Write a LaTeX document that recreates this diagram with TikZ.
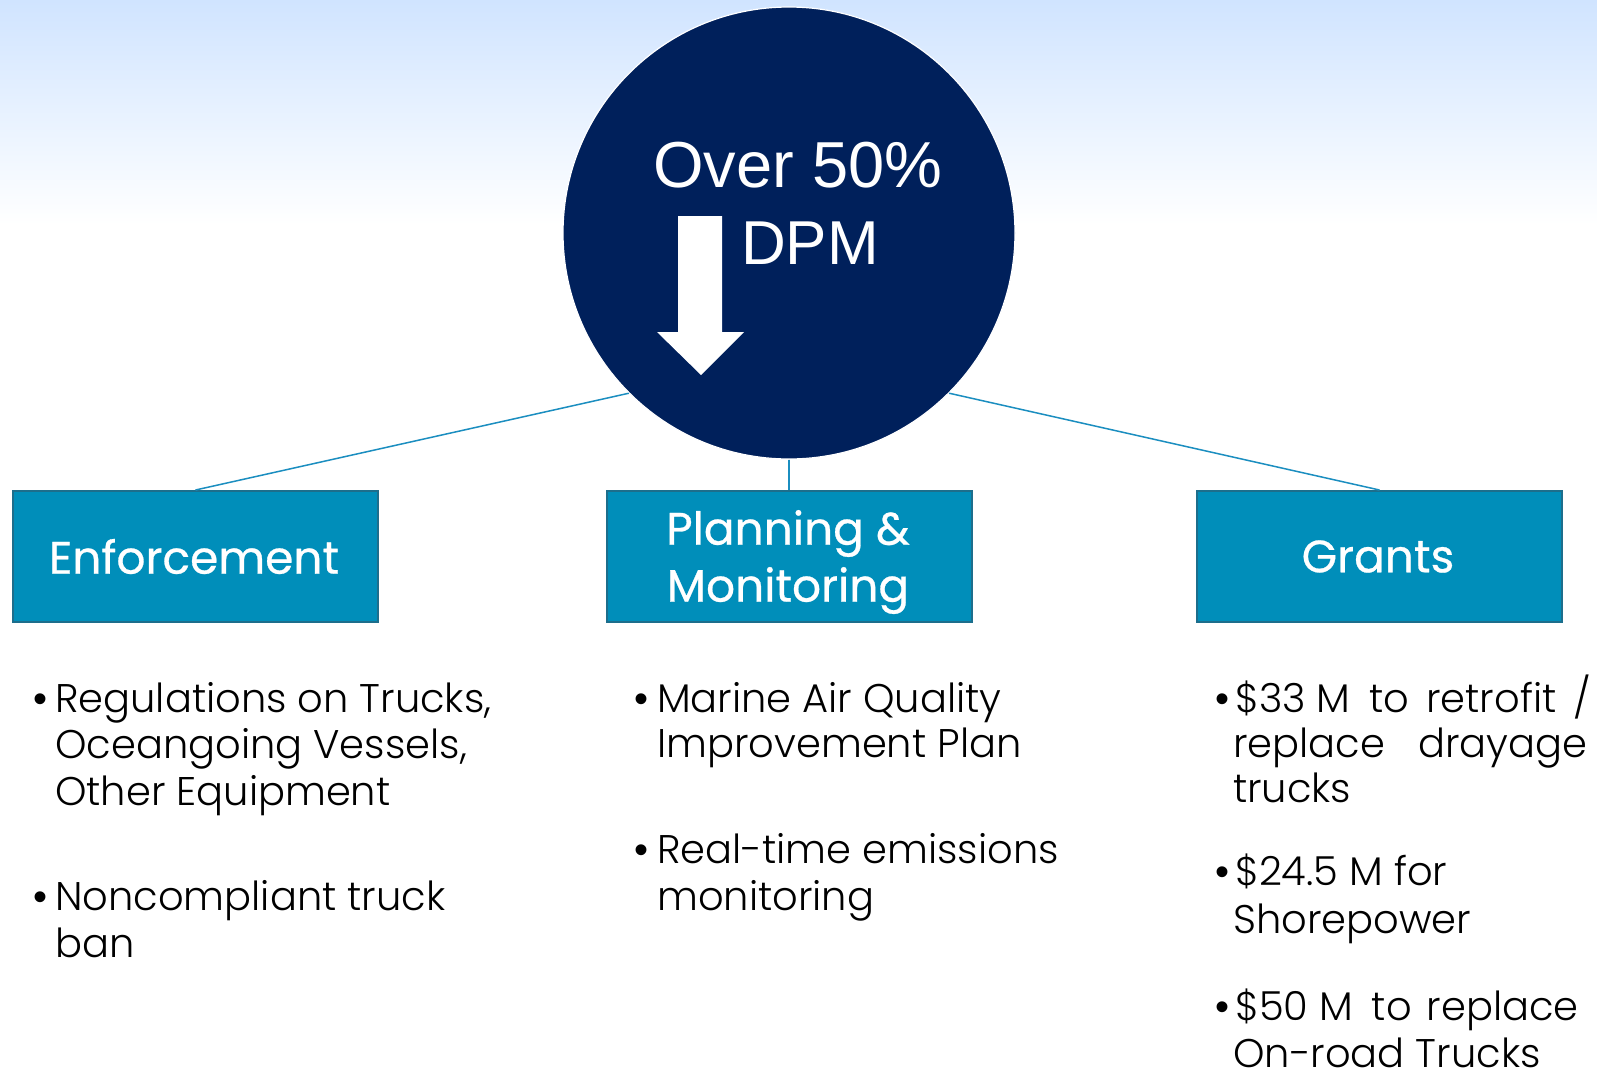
\documentclass[tikz,border=0pt]{standalone}
\usepackage{fontspec}
\setmainfont{Liberation Sans}
\newfontfamily\titlefont{Poppins}[FakeBold=0.6]
\newfontfamily\bodyfont{Poppins}[UprightFont=* Light]
\newfontfamily\bulletfont{Liberation Sans}
\definecolor{navy}{HTML}{00205B}
\definecolor{boxblue}{HTML}{008EBA}
\definecolor{boxedge}{HTML}{1D6E8C}
\definecolor{linkblue}{HTML}{1B8EC0}
\definecolor{skyblue}{HTML}{D0E4FF}
\tikzset{
 hubstyle/.style={circle, fill=navy, draw=white, line width=1.2pt, minimum size=452pt, inner sep=0pt},
 catbox/.style={rectangle, fill=boxblue, draw=boxedge, line width=2pt, minimum width=365pt, minimum height=131pt, inner sep=0pt},
 cattext/.style={inner sep=0pt, text=white, font=\titlefont\fontsize{45.5}{57}\selectfont, align=center},
 link/.style={draw=linkblue, line width=1.5pt},
 bodyline/.style={anchor=base west, inner sep=0pt, font=\bodyfont\fontsize{40}{46}\selectfont, text=black},
 bulletmark/.style={anchor=base, inner sep=0pt, font=\bulletfont\fontsize{40}{46}\selectfont, text=black},
 bigtext/.style={anchor=base west, inner sep=0pt, text=white},
 arrowshape/.style={fill=white},
}
\begin{document}
\begin{tikzpicture}[x=1pt,y=-1pt]
\useasboundingbox (0,0) rectangle (1597,1069);
\fill[white] (0,0) rectangle (1597,1069);
\shade[top color=skyblue, bottom color=white] (0,0) rectangle (1597,225);

\node[hubstyle] (hub) at (789,233) {};
\node[catbox] (enf) at (195.5,556.5) {};
\node[catbox] (plan) at (789,556.5) {};
\node[catbox] (grant) at (1379.5,556.5) {};
\node[cattext] (enft) at (194,556.5) {Enforcement};
\node[cattext] (plant) at (788,562) {Planning \&\\Monitoring};
\node[cattext] (grantt) at (1378,556.5) {Grants};

\draw[link] (enf.north) -- (hub.225);
\draw[link] (hub.south) -- (plan.north);
\draw[link] (hub.315) -- (grant.north);

\node[bigtext, font=\fontsize{65}{70}\selectfont] (over) at (653,187) {Over 50\%};
\node[bigtext, font=\fontsize{62}{70}\selectfont] (dpm) at (741,264) {DPM};
\fill[arrowshape] (678,216) -- (722,216) -- (722,332) -- (744,332) -- (701,375) -- (657,332) -- (678,332) -- cycle;

% left column
\node[bulletmark] (b1) at (41,712) {•};
\node[bodyline] (e1) at (55,712) {Regulations on Trucks,};
\node[bodyline] (e2) at (55,758) {Oceangoing Vessels,};
\node[bodyline] (e3) at (55,805) {Other Equipment};
\node[bulletmark] (b2) at (41,910) {•};
\node[bodyline] (e4) at (55,910) {Noncompliant truck};
\node[bodyline] (e5) at (55,957) {ban};

% middle column
\node[bulletmark] (b3) at (641,712) {•};
\node[bodyline] (p1) at (657,712) {Marine Air Quality};
\node[bodyline] (p2) at (657,757) {Improvement Plan};
\node[bulletmark] (b4) at (641,863) {•};
\node[bodyline] (p3) at (657,863) {Real-time emissions};
\node[bodyline] (p4) at (657,910) {monitoring};

% right column
\node[bulletmark] (b5) at (1222,712) {•};
\node[bodyline] (g1) at (1235,712) {\$33 M\hspace{0.2em} to\hspace{0.15em} retrofit\hspace{0.15em} /};
\node[bodyline] (g2) at (1233,757) {replace\hspace{0.55em} drayage};
\node[bodyline] (g3) at (1233,802) {trucks};
\node[bulletmark] (b6) at (1222,885) {•};
\node[bodyline] (g4) at (1235,885) {\$24.5 M for};
\node[bodyline] (g5) at (1233,933) {Shorepower};
\node[bulletmark] (b7) at (1222,1020) {•};
\node[bodyline] (g6) at (1235,1020) {\$50 M\hspace{0.2em} to\hspace{0.1em} replace};
\node[bodyline] (g7) at (1233,1067) {On-road Trucks};
\end{tikzpicture}
\end{document}
